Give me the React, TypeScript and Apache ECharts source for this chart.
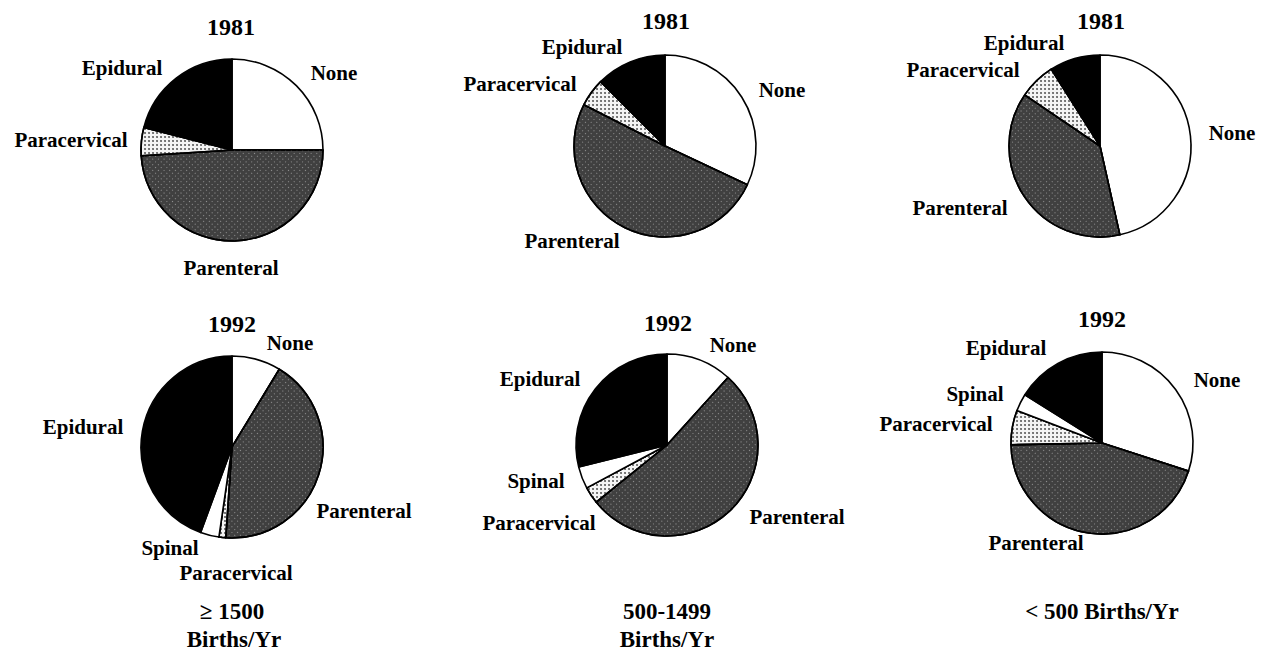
import React, { useEffect, useRef } from "react";
import * as echarts from "echarts";

const categories1981 = ["None", "Parenteral", "Paracervical", "Epidural"];
const categories1992 = ["None", "Parenteral", "Paracervical", "Spinal", "Epidural"];

const large1981 = [25, 49, 5, 21];
const medium1981 = [32, 50.5, 5, 12.5];
const small1981 = [46.5, 38, 6.5, 9];
const large1992 = [8.7, 42.4, 1.2, 3.3, 44.4];
const medium1992 = [11.7, 52.5, 3, 3.9, 28.9];
const small1992 = [30, 44.7, 6.1, 3.1, 16.1];

const yearTitles = ["1981", "1981", "1981", "1992", "1992", "1992"];
const groupCaptions = [["≥ 1500", "Births/Yr"], ["500-1499", "Births/Yr"], ["< 500 Births/Yr"]];

// layout (positions only)
const centers = [
  [232, 150], [665, 146], [1100, 146],
  [232, 447], [667, 445], [1102, 443],
];
const titlePos = [[231, 27], [666, 21], [1101, 21], [232, 324], [668, 323], [1102, 319]];
const labelPos: Record<string, number[]>[] = [
  { None: [334, 73], Parenteral: [231, 268], Paracervical: [71, 140], Epidural: [122, 68] },
  { None: [782, 90], Parenteral: [572, 241], Paracervical: [520, 84], Epidural: [582, 47] },
  { None: [1232, 133], Parenteral: [960, 208], Paracervical: [963, 70], Epidural: [1024, 43] },
  { None: [290, 343], Parenteral: [364, 511], Paracervical: [236, 573], Spinal: [170, 548], Epidural: [83, 427] },
  { None: [733, 345], Parenteral: [797, 517], Paracervical: [539, 523], Spinal: [536, 481], Epidural: [540, 379] },
  { None: [1217, 380], Parenteral: [1036, 543], Paracervical: [936, 424], Spinal: [975, 394], Epidural: [1006, 348] },
];
const captionPos = [[[232, 611], [234, 639]], [[667, 611], [667, 639]], [[1102, 611]]];

const FONT = "'Liberation Serif', 'Times New Roman', serif";

const styles: Record<string, any> = {
  None: { color: "#ffffff" },
  Spinal: { color: "#ffffff" },
  Epidural: { color: "#000000" },
  Parenteral: {
    color: "#404040",
    decal: {
      symbol: "rect",
      symbolSize: 0.8,
      color: "rgba(255,255,255,0.55)",
      dashArrayX: [1, 2.5],
      dashArrayY: [1, 2.5],
      rotation: Math.PI / 4,
    },
  },
  Paracervical: {
    color: "#f4f4f4",
    decal: {
      symbol: "circle",
      symbolSize: 0.8,
      color: "#333333",
      dashArrayX: [2, 2],
      dashArrayY: [2, 2],
      rotation: 0,
    },
  },
};

export default function App() {
  const ref = useRef<HTMLDivElement>(null);
  useEffect(() => {
    if (!ref.current) return;
    const chart = echarts.init(ref.current, undefined, { renderer: "svg" });
    const datasets = [
      [categories1981, large1981],
      [categories1981, medium1981],
      [categories1981, small1981],
      [categories1992, large1992],
      [categories1992, medium1992],
      [categories1992, small1992],
    ];
    const series = datasets.map(([cats, vals], si) => ({
      type: "pie",
      center: centers[si],
      radius: 91,
      startAngle: 90,
      clockwise: true,
      avoidLabelOverlap: false,
      data: (cats as string[]).map((c, i) => ({
        name: c,
        value: (vals as number[])[i],
        itemStyle: { ...styles[c], borderColor: "#000", borderWidth: 1.6 },
      })),
      label: {
        show: true,
        position: "outside",
        formatter: "{b}",
        color: "#000",
        fontFamily: FONT,
        fontWeight: "bold",
        fontSize: 21,
      },
      labelLine: { show: false },
      labelLayout: (params: any) => {
        const name = (cats as string[])[params.dataIndex];
        const p = labelPos[si][name];
        return { x: p[0], y: p[1], align: "center", verticalAlign: "middle" };
      },
      emphasis: { disabled: true },
    }));
    const graphic: any[] = [];
    yearTitles.forEach((t, i) => {
      graphic.push({
        type: "text",
        x: titlePos[i][0],
        y: titlePos[i][1],
        style: {
          text: t,
          fill: "#000",
          fontFamily: FONT,
          fontWeight: "bold",
          fontSize: 24,
          textAlign: "center",
          textVerticalAlign: "middle",
        },
      });
    });
    groupCaptions.forEach((lines, gi) => {
      lines.forEach((line, li) => {
        graphic.push({
          type: "text",
          x: captionPos[gi][li][0],
          y: captionPos[gi][li][1],
          style: {
            text: line,
            fill: "#000",
            fontFamily: FONT,
            fontWeight: "bold",
            fontSize: 23,
            textAlign: "center",
            textVerticalAlign: "middle",
          },
        });
      });
    });
    chart.setOption({
      animation: false,
      backgroundColor: "#ffffff",
      series,
      graphic,
    });
    return () => chart.dispose();
  }, []);
  return (
    <div
      ref={ref}
      style={{ position: "fixed", left: 0, top: 0, width: 1263, height: 654 }}
    />
  );
}
